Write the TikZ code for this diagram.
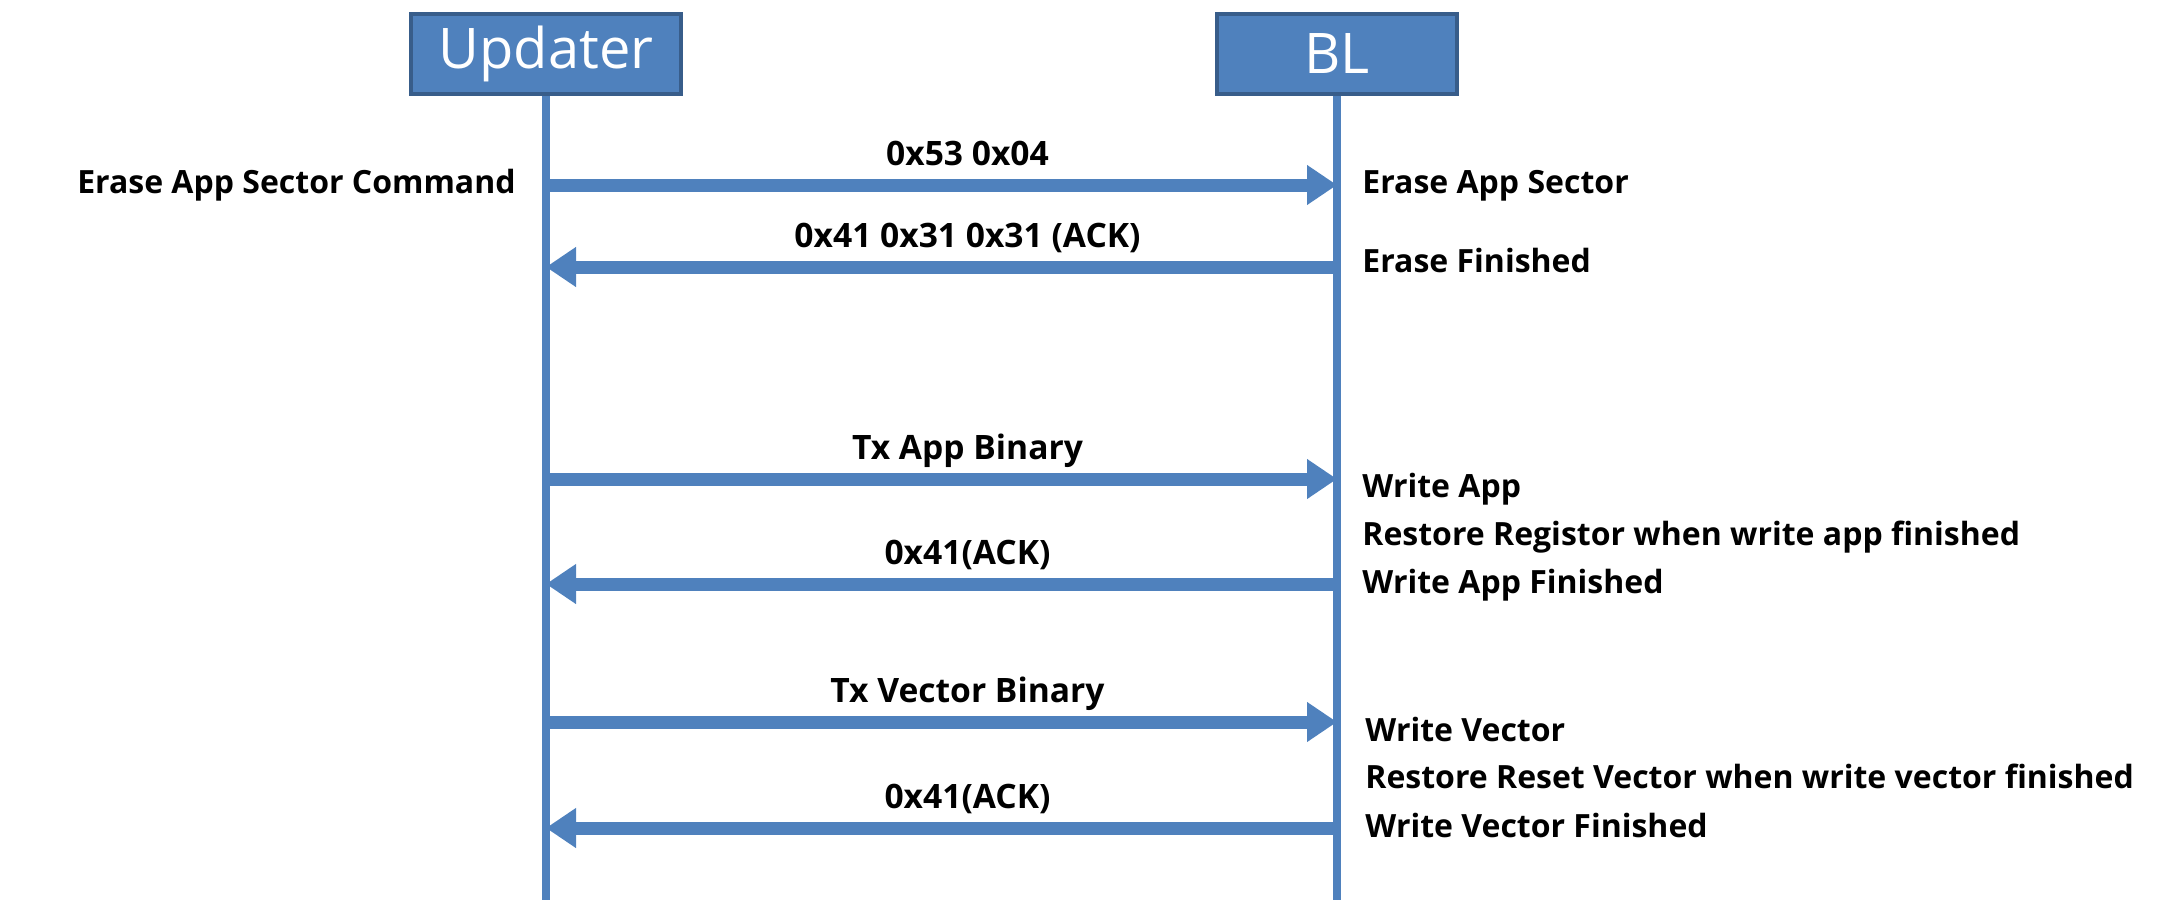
\documentclass[tikz,border=0pt]{standalone}
\usepackage{fontspec}
\setmainfont{Open Sans}
\usetikzlibrary{arrows.meta}
\definecolor{actorblue}{HTML}{4F81BD}
\definecolor{actoredge}{HTML}{385D8A}

\begin{document}
\begin{tikzpicture}[x=0.5pt,y=-0.5pt,
    actor/.style={draw=actoredge, line width=2pt, fill=actorblue, text=white,
        minimum height=40pt, inner sep=0pt,
        font=\fontsize{28}{30}\selectfont},
    lifeline/.style={actorblue, line width=4pt},
    msg/.style={actorblue, line width=6.5pt, -{Triangle[length=15pt,width=19pt]}},
    msglabel/.style={midway, anchor=base, yshift=10pt, xshift=13pt, inner sep=0pt,
        text=black, font=\fontsize{16.8}{18}\selectfont\bfseries},
    note/.style={anchor=base west, inner sep=0pt,
        font=\fontsize{16}{18}\selectfont\bfseries}]
    \useasboundingbox (0,0) rectangle (2159,905);

    % Actors and lifelines
    \node[actor, minimum width=135pt] (updater) at (546,54) {Updater};
    \node[actor, minimum width=120pt] (bl) at (1337,54) {BL};
    \coordinate (updaterend) at (546,900);
    \coordinate (blend) at (1337,900);
    \draw[lifeline] (updater.south) -- (updaterend);
    \draw[lifeline] (bl.south) -- (blend);

    % Points on the lifelines
    \foreach \y [count=\i] in {185,267,479,584,722,828} {
        \coordinate (u\i) at (546,\y);
        \coordinate (b\i) at (1337,\y);
    }

    % Messages
    \draw[msg] (u1) -- (b1) node[msglabel] {0x53 0x04};
    \draw[msg] (b2) -- (u2) node[msglabel] {0x41 0x31 0x31 (ACK)};
    \draw[msg] (u3) -- (b3) node[msglabel] {Tx App Binary};
    \draw[msg] (b4) -- (u4) node[msglabel] {0x41(ACK)};
    \draw[msg] (u5) -- (b5) node[msglabel] {Tx Vector Binary};
    \draw[msg] (b6) -- (u6) node[msglabel] {0x41(ACK)};

    % Notes
    \node[note, anchor=base east] (cmd) at (516,193) {Erase App Sector Command};
    \node[note] (erase) at (1362,193) {Erase App Sector};
    \node[note] (erasedone) at (1362,272) {Erase Finished};
    \node[note] (writeapp) at (1362,497) {Write App};
    \node[note] (restorereg) at (1362,545) {Restore Registor when write app finished};
    \node[note] (writeappdone) at (1362,593) {Write App Finished};
    \node[note] (writevec) at (1365,741) {Write Vector};
    \node[note] (restorevec) at (1365,788) {Restore Reset Vector when write vector finished};
    \node[note] (writevecdone) at (1365,837) {Write Vector Finished};
\end{tikzpicture}
\end{document}
